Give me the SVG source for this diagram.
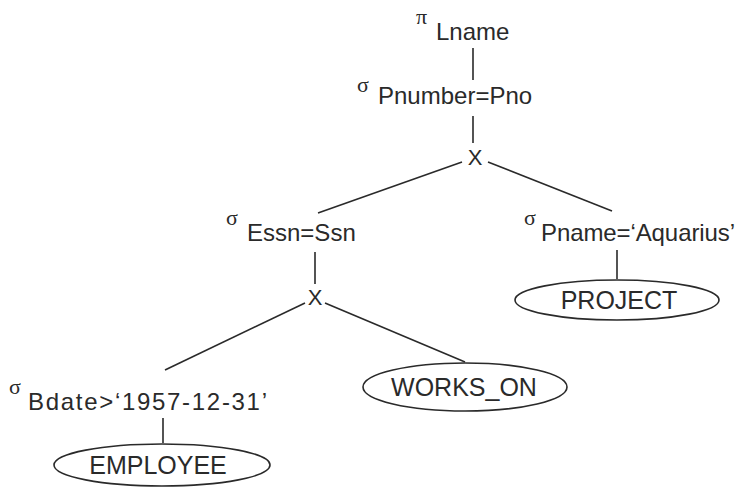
<svg xmlns="http://www.w3.org/2000/svg" width="737" height="492" viewBox="0 0 737 492">
<style>
text{font-family:"Liberation Sans",Arial,sans-serif;fill:#2a2a2a}
.t{font-size:24px}
.r{font-size:25px;text-anchor:middle}
.op{font-size:22px;font-family:"Liberation Serif","Times New Roman",serif}
.x{font-size:22px;text-anchor:middle}
line,ellipse{stroke:#2a2a2a;stroke-width:1.6;fill:none}
</style>
<rect width="737" height="492" fill="#fff"/>
<g id="connectors">
<line x1="473" y1="48" x2="473" y2="80"/>
<line x1="473" y1="116" x2="473" y2="143"/>
<line x1="462" y1="162" x2="318" y2="213"/>
<line x1="488" y1="162" x2="612" y2="211"/>
<line x1="315" y1="252" x2="315" y2="284"/>
<line x1="305" y1="303" x2="165" y2="370"/>
<line x1="325" y1="303" x2="465" y2="362"/>
<line x1="163" y1="418" x2="163" y2="443"/>
<line x1="617" y1="250" x2="617" y2="279"/>
</g>
<g id="project_lname"><text class="op" x="416" y="24">π</text><text class="t" x="436" y="40">Lname</text></g>
<g id="select_pnumber"><text class="op" x="357" y="92">σ</text><text class="t" x="378" y="104">Pnumber=Pno</text></g>
<g id="cross1"><text class="x" x="475" y="165">X</text></g>
<g id="select_essn"><text class="op" x="226" y="225">σ</text><text class="t" x="247" y="241">Essn=Ssn</text></g>
<g id="cross2"><text class="x" x="315" y="305">X</text></g>
<g id="select_pname"><text class="op" x="524" y="225">σ</text><text class="t" x="541" y="241" textLength="194">Pname=‘Aquarius’</text></g>
<g id="project_rel"><ellipse cx="617" cy="300" rx="102" ry="20"/><text class="r" x="619" y="309">PROJECT</text></g>
<g id="select_bdate"><text class="op" x="9" y="394">σ</text><text class="t" x="28" y="410" textLength="239">Bdate&gt;‘1957-12-31’</text></g>
<g id="works_on"><ellipse cx="465" cy="387" rx="102" ry="24"/><text class="r" x="464" y="396">WORKS_ON</text></g>
<g id="employee"><ellipse cx="162" cy="465" rx="108" ry="21"/><text class="r" x="158" y="474">EMPLOYEE</text></g>
</svg>
